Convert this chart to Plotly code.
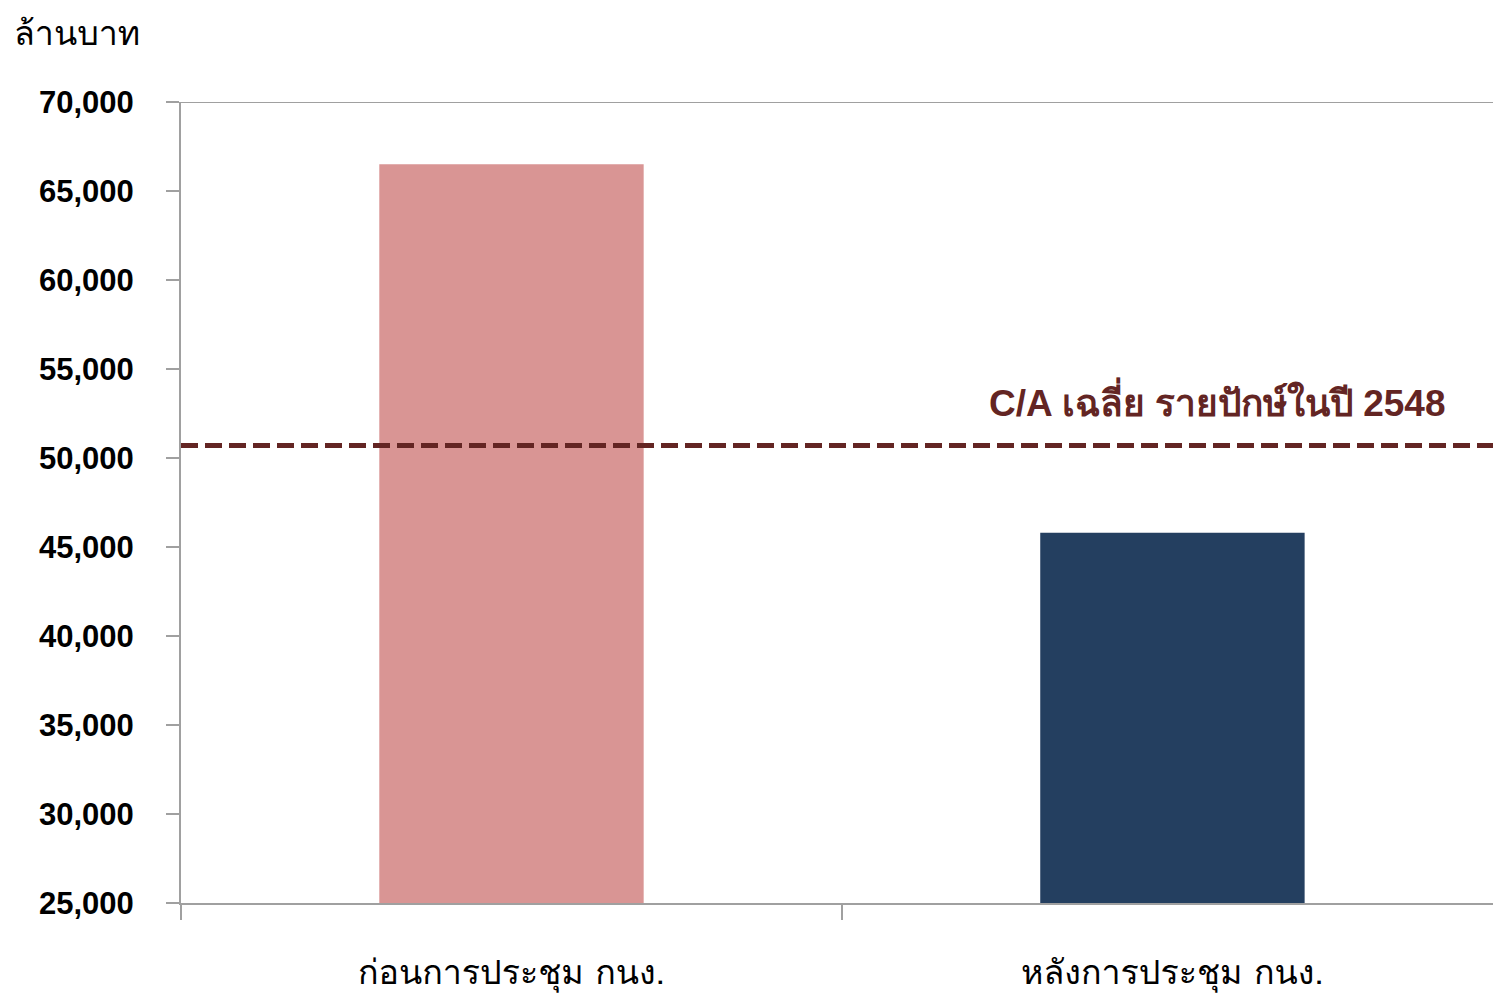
import plotly.graph_objects as go

categories = ["ก่อนการประชุม กนง.", "หลังการประชุม กนง."]
values = [66500, 45800]
bar_colors = ["#D99594", "#243F60"]
avg_value = 50700
avg_label = "C/A เฉลี่ย รายปักษ์ในปี 2548"
y_title = "ล้านบาท"
y_ticks = [25000, 30000, 35000, 40000, 45000, 50000, 55000, 60000, 65000, 70000]

thai_font = "Loma, Garuda, Noto Sans Thai Looped, Tahoma, Noto Sans Thai, sans-serif"

fig = go.Figure()
fig.add_trace(go.Bar(x=categories, y=values, marker=dict(color=bar_colors, line=dict(width=0)),
                     width=0.4, showlegend=False))

axis_col = "#A0A0A0"
fig.update_layout(
    width=1493, height=1001,
    margin=dict(l=181, r=0, t=102, b=98, autoexpand=False),
    plot_bgcolor="white", paper_bgcolor="white",
    font=dict(family="Liberation Sans, Arial, sans-serif", color="black"),
    xaxis=dict(range=[-0.5, 1.485], showline=True, linecolor=axis_col, linewidth=2,
               ticks="outside", tickson="boundaries", ticklen=15, tickcolor=axis_col, tickwidth=2,
               tickfont=dict(size=34, family=thai_font, color="black"),
               ticklabelstandoff=38, showgrid=False, automargin=False),
    yaxis=dict(range=[25000, 70000], tickvals=y_ticks, tickformat=",d",
               showline=True, linecolor=axis_col, linewidth=2,
               ticks="outside", ticklen=13, tickcolor=axis_col, tickwidth=2,
               tickfont=dict(size=31, family="Liberation Sans, Arial, sans-serif", color="black",
                             weight="bold"),
               ticklabelstandoff=26, showgrid=False, zeroline=False, automargin=False),
)

# top border line at 70,000
fig.add_shape(type="line", xref="paper", yref="y", x0=0, x1=1, y0=70000, y1=70000,
              line=dict(color=axis_col, width=2))
# average dashed line
fig.add_shape(type="line", xref="paper", yref="y", x0=0, x1=1, y0=avg_value, y1=avg_value,
              line=dict(color="#632523", width=5, dash="17px,7px"))
fig.add_annotation(text="<b>" + avg_label + "</b>", xref="paper", yref="y", x=0.966, y=avg_value,
                   xanchor="right", yanchor="bottom", yshift=20, showarrow=False,
                   font=dict(size=37, color="#632523", family="Liberation Sans, Arial, sans-serif"))
fig.add_annotation(text=y_title, xref="paper", yref="paper", x=(12 - 181) / 1312, y=1,
                   xanchor="left", yanchor="bottom", yshift=40, showarrow=False,
                   font=dict(size=34, color="black", family=thai_font))

fig.write_html("out.html")
